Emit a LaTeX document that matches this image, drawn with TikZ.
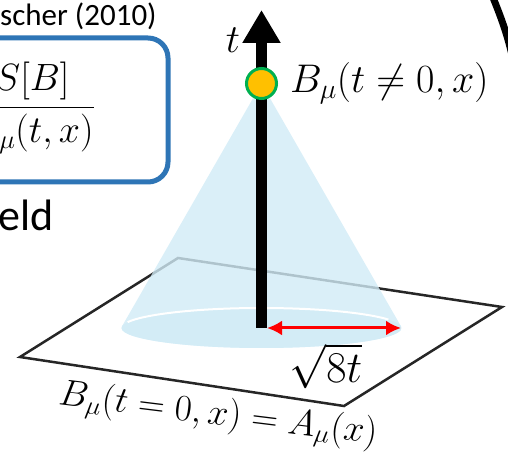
\RequirePackage{fix-cm}
\documentclass[tikz,border=0pt]{standalone}
\usepackage{amsmath}
\usepackage{fontspec}
\setmainfont{Carlito}
\usetikzlibrary{arrows.meta,positioning}
\definecolor{azulMarco}{HTML}{2E75B6}
\definecolor{azulCono}{RGB}{209,235,246}
\definecolor{naranjaP}{HTML}{FFC000}
\definecolor{verdeP}{HTML}{00B050}
\definecolor{rojoF}{HTML}{FF0000}
\definecolor{grisP}{HTML}{262626}

\begin{document}
\begin{tikzpicture}[x=1pt,y=1pt,
    mate/.style={inner sep=0pt,font=\fontsize{40}{44}\selectfont},
    texto/.style={inner sep=0pt,anchor=west}]
  \useasboundingbox (0,0) rectangle (508,460);
  \clip (0,0) rectangle (508,460);
  % plano t=0
  \draw[grisP,line width=2.5pt] (20,103) -- (178,202) -- (502,153) -- (344,54) -- cycle;
  % cono
  \coordinate (vert) at (261.5,376.5);
  \coordinate (origen) at (261.5,132);
  \fill[azulCono,opacity=0.8] (vert) -- ([shift={(175.3:140 and 20)}]origen)
    arc[start angle=175.3,end angle=364.7,x radius=140,y radius=20] -- cycle;
  \fill[azulCono,opacity=0.8] (origen) ellipse[x radius=140,y radius=20];
  \draw[white,line width=2pt] ([shift={(163:140 and 20)}]origen)
    arc[start angle=163,end angle=25,x radius=140,y radius=20];
  % eje t
  \coordinate (cima) at (261.5,450);
  \draw[line width=11pt,-{Triangle[width=36pt,length=33pt]}] (origen) -- (cima);
  \node[mate] (tEtiq) at (233,420) {$t$};
  \node[circle,fill=naranjaP,draw=verdeP,line width=3pt,minimum size=30pt,inner sep=0pt] (punto) at (vert) {};
  \node[mate,right=12pt of punto] (bEtiq) {$B_\mu(t\neq 0,x)$};
  % radio
  \coordinate (eje) at (267,132);
  \coordinate (borde) at (401,132);
  \draw[rojoF,line width=3pt,{Latex[length=15pt,width=15pt]}-{Latex[length=15pt,width=15pt]}] (eje) -- (borde);
  \node[mate,font=\fontsize{44}{48}\selectfont] (radio) at (326,94) {$\sqrt{8t}$};
  \node[mate,font=\fontsize{37}{42}\selectfont,rotate=-7] (frontera) at (218,44) {$B_\mu(t=0,x)=A_\mu(x)$};
  % caja
  \draw[azulMarco,line width=5pt,rounded corners=20pt] (-30,278) rectangle (168,422);
  \node[mate,font=\fontsize{38}{42}\selectfont,anchor=east] (flujo) at (95,352) {$\displaystyle\frac{\delta S[B]}{\delta B_\mu(t,x)}$};
  \node[texto,font=\fontsize{31}{36}\selectfont] (cita) at (0,444) {scher (2010)};
  \node[texto,font=\fontsize{44}{50}\selectfont] (campo) at (-2,245) {eld};
  % arco
  \draw[line width=7pt] (492,465) .. controls (500,445) and (506,430) .. (512,405);
\end{tikzpicture}
\end{document}
